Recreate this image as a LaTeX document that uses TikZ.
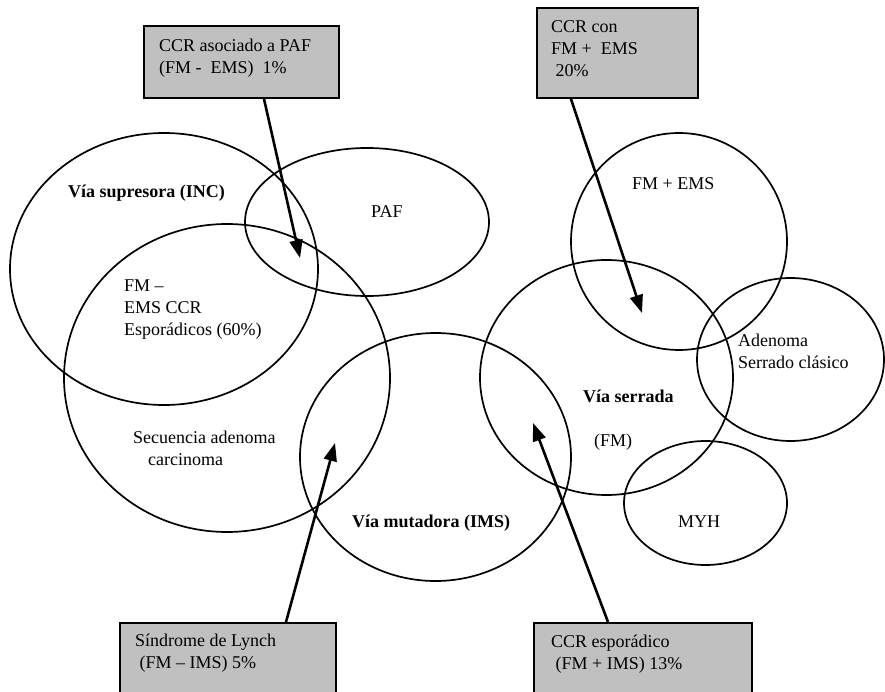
\documentclass[tikz,border=0pt]{standalone}
\usepackage{fontspec}
\setmainfont{Liberation Serif}
\usepackage{tikz}
\usetikzlibrary{positioning,calc,arrows.meta}
\usepackage[dvipsnames]{xcolor}
\definecolor{boxgray}{HTML}{C0C0C0}

\begin{document}
\begin{tikzpicture}[x=1pt,y=-1pt,
        every node/.style={font=\fontsize{18}{22}\selectfont,inner sep=0pt},
        venn/.style={line width=1.7pt},
        grbox/.style={draw,fill=boxgray,line width=2pt,anchor=north west},
        boxtxt/.style={anchor=base west,align=left},
        pointer/.style={line width=2.6pt,-{Triangle[length=18pt,width=13pt]}}
    ]
            \useasboundingbox (0,0) rectangle (885,692);
            % the ellipses
            \foreach \c/\rx/\ry in {
                {164,269}/154/136,
                {367,222}/122/74,
                {227,378}/163/154,
                {435.5,457}/135.5/124,
                {606.5,377.5}/126.5/117.5,
                {679,241.5}/108/108.5,
                {790.5,359.5}/93.5/81.5,
                {705.5,503}/81.5/62
            } {
                \draw[venn] (\c) ellipse [x radius=\rx pt, y radius=\ry pt];
            }
            % labels inside the ellipses (base = last line)
            \node[boxtxt] (supresora) at (68,198) {\textbf{Vía supresora (INC)}};
            \node[boxtxt] (paf) at (371,218) {PAF};
            \node[boxtxt] (esporadicos) at (124,335) {FM –\\EMS CCR\\Esporádicos (60\%)};
            \node[boxtxt] (secuencia) at (133,465) {Secuencia adenoma\\\hspace*{15pt}carcinoma};
            \node[boxtxt] (mutadora) at (352,527) {\textbf{Vía mutadora (IMS)}};
            \node[boxtxt] (serrada) at (583,402) {\textbf{Vía serrada}};
            \node[boxtxt] (fm) at (594,446) {(FM)};
            \node[boxtxt] (fmems) at (632,190) {FM + EMS};
            \node[boxtxt] (adenoma) at (738,368) {Adenoma\\Serrado clásico};
            \node[boxtxt] (myh) at (678,527) {MYH};
            % grey boxes
            \node[grbox,minimum width=195pt,minimum height=72pt] (paf box) at (143,25) {};
            \node[grbox,minimum width=161pt,minimum height=90pt] (ems box) at (536,7) {};
            \node[grbox,minimum width=216pt,minimum height=80pt] (lynch box) at (119,622) {};
            \node[grbox,minimum width=218pt,minimum height=80pt] (ims box) at (533,622) {};
            \node[boxtxt] (paf txt) at (159,74) {CCR asociado a PAF\\(FM -\ \ EMS)\ \ 1\%};
            \node[boxtxt] (ems txt) at (551,77) {CCR con\\FM +\ \ EMS\\\ 20\%};
            \node[boxtxt] (lynch txt) at (135,668) {Síndrome de Lynch\\\ (FM – IMS) 5\%};
            \node[boxtxt] (ims txt) at (551,669) {CCR esporádico\\\ (FM + IMS) 13\%};
            % arrows
            \coordinate (paf tip) at (300,258);
            \coordinate (ems tip) at (642,313);
            \coordinate (lynch tip) at (335,443);
            \coordinate (ims tip) at (533,423);
            \draw[pointer] ([xshift=22.5pt]paf box.south) -- (paf tip);
            \draw[pointer] ([xshift=-46.5pt]ems box.south) -- (ems tip);
            \draw[pointer] ([xshift=58pt]lynch box.north) -- (lynch tip);
            \draw[pointer] ([xshift=-35pt]ims box.north) -- (ims tip);
        \end{tikzpicture}
\end{document}
